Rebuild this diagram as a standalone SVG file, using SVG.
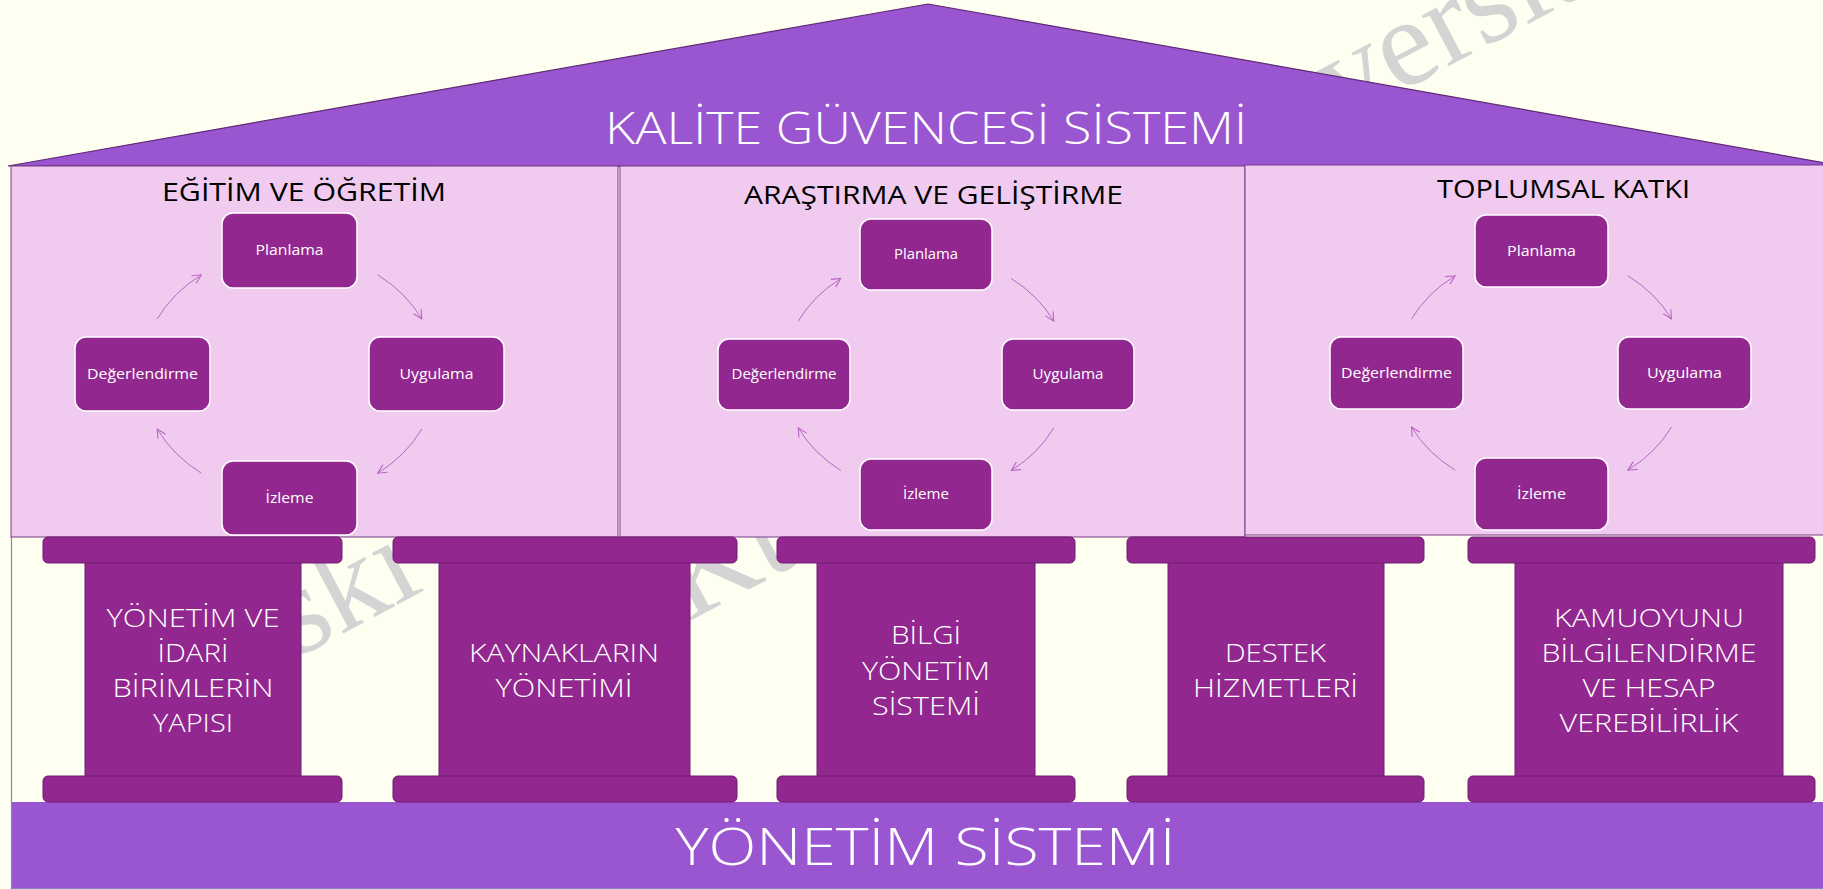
<svg xmlns="http://www.w3.org/2000/svg" width="1823" height="889" viewBox="0 0 1823 889">
<defs>
<style>
.wm{font-family:"Liberation Serif",serif;font-size:125px;fill:#d4d4d4}
.roof{fill:#9a55d1;stroke:#5e2a73;stroke-width:1.2}
.panel{fill:#f0cbef;stroke:#7a3a86;stroke-width:1}
.node{fill:#92278f;stroke:#ffffff;stroke-width:1.5}
.ntext{font-family:"Open Sans","Noto Sans",sans-serif;font-size:14.5px;fill:#ffffff;text-anchor:middle}
.title{font-family:"Open Sans","Noto Sans",sans-serif;font-size:26px;fill:#000000;text-anchor:middle}
.cap{fill:#92278f;stroke:#6e1f6e;stroke-width:1}
.shaft{fill:#92278f;stroke:#6e1f6e;stroke-width:1}
.ptext{font-family:"Open Sans","Noto Sans",sans-serif;font-size:25.5px;font-weight:300;fill:#ffffff;text-anchor:middle}
.big{font-family:"Open Sans","Noto Sans",sans-serif;fill:#ffffff;text-anchor:middle;font-weight:300}
.arc{fill:none;stroke:#b866c4;stroke-width:1;marker-end:url(#ah)}
</style>
<marker id="ah" viewBox="0 0 10 10" refX="9" refY="5" markerWidth="11" markerHeight="11" markerUnits="userSpaceOnUse" orient="auto">
<path d="M1,1 L9,5 L1,9" fill="none" stroke="#b866c4" stroke-width="1"/>
</marker>
</defs>
<rect x="0" y="0" width="1823" height="889" fill="#fefef1"/>

<g id="watermark">
<text class="wm" x="297" y="658" transform="rotate(-28 297 658)">ski</text>
<text class="wm" x="688" y="622" transform="rotate(-28 688 622)">Ku</text>
<text class="wm" x="1342" y="123" transform="rotate(-28 1342 123)">versit</text>
</g>

<g id="roof">
<polygon class="roof" points="8,166 928,4 1848,167"/>
<text class="big" x="926" y="144" font-size="44" font-weight="400" textLength="642" lengthAdjust="spacingAndGlyphs">KALİTE GÜVENCESİ SİSTEMİ</text>
</g>

<g id="base">
<rect x="11" y="802" width="1812" height="87" fill="#9a55d1"/>
<polyline points="11.5,537 11.5,888.5 1823,888.5" fill="none" stroke="#7d8ac6" stroke-width="1.2"/>
<text class="big" x="925.5" y="865" font-size="52" textLength="500" lengthAdjust="spacingAndGlyphs">YÖNETİM SİSTEMİ</text>
</g>

<g id="panel-egitim">
<rect class="panel" x="11" y="166" width="607" height="371"/>
<text class="title" x="304" y="200.5" textLength="284" lengthAdjust="spacingAndGlyphs">EĞİTİM VE ÖĞRETİM</text>
</g>
<g id="panel-arastirma">
<rect class="panel" x="620" y="166" width="625" height="371"/>
<text class="title" x="933.5" y="203.5" textLength="379" lengthAdjust="spacingAndGlyphs">ARAŞTIRMA VE GELİŞTİRME</text>
</g>
<g id="panel-toplumsal">
<rect class="panel" x="1245" y="165" width="590" height="370"/>
<text class="title" x="1563.5" y="198" textLength="253" lengthAdjust="spacingAndGlyphs">TOPLUMSAL KATKI</text>
</g>

<g id="connectors">
<path class="arc" d="M377.7,274.8 A147,124 0 0 1 421.8,319"/>
<path class="arc" d="M421.8,429 A147,124 0 0 1 377.7,473.2"/>
<path class="arc" d="M201.3,473.2 A147,124 0 0 1 157.2,429"/>
<path class="arc" d="M157.2,319 A147,124 0 0 1 201.3,274.8"/>

<path class="arc" d="M1011.2,278.5 A142,120 0 0 1 1053.8,321.2"/>
<path class="arc" d="M1053.8,427.8 A142,120 0 0 1 1011.2,470.5"/>
<path class="arc" d="M840.8,470.5 A142,120 0 0 1 798.2,427.8"/>
<path class="arc" d="M798.2,321.2 A142,120 0 0 1 840.8,278.5"/>

<path class="arc" d="M1627.9,275.8 A144.5,121.5 0 0 1 1671.5,319"/>
<path class="arc" d="M1671.5,427 A144.5,121.5 0 0 1 1627.9,470.2"/>
<path class="arc" d="M1455.1,470.2 A144.5,121.5 0 0 1 1411.5,427"/>
<path class="arc" d="M1411.5,319 A144.5,121.5 0 0 1 1455.1,275.8"/>
</g>

<g id="node-e-planlama"><rect class="node" x="222" y="213" width="135" height="75" rx="11"/><text class="ntext" x="289.5" y="255" textLength="68" lengthAdjust="spacingAndGlyphs">Planlama</text></g>
<g id="node-e-uygulama"><rect class="node" x="369" y="337" width="135" height="74" rx="11"/><text class="ntext" x="436.5" y="378.5" textLength="74" lengthAdjust="spacingAndGlyphs">Uygulama</text></g>
<g id="node-e-izleme"><rect class="node" x="222" y="461" width="135" height="74" rx="11"/><text class="ntext" x="289.5" y="502.5" textLength="48" lengthAdjust="spacingAndGlyphs">İzleme</text></g>
<g id="node-e-degerlendirme"><rect class="node" x="75" y="337" width="135" height="74" rx="11"/><text class="ntext" x="142.5" y="378.5" textLength="111" lengthAdjust="spacingAndGlyphs">Değerlendirme</text></g>

<g id="node-a-planlama"><rect class="node" x="860" y="219" width="132" height="71" rx="11"/><text class="ntext" x="926" y="259" textLength="64" lengthAdjust="spacingAndGlyphs">Planlama</text></g>
<g id="node-a-uygulama"><rect class="node" x="1002" y="339" width="132" height="71" rx="11"/><text class="ntext" x="1068" y="379" textLength="71" lengthAdjust="spacingAndGlyphs">Uygulama</text></g>
<g id="node-a-izleme"><rect class="node" x="860" y="459" width="132" height="71" rx="11"/><text class="ntext" x="926" y="499" textLength="46" lengthAdjust="spacingAndGlyphs">İzleme</text></g>
<g id="node-a-degerlendirme"><rect class="node" x="718" y="339" width="132" height="71" rx="11"/><text class="ntext" x="784" y="379" textLength="105" lengthAdjust="spacingAndGlyphs">Değerlendirme</text></g>

<g id="node-t-planlama"><rect class="node" x="1475" y="215" width="133" height="72" rx="11"/><text class="ntext" x="1541.5" y="255.5" textLength="69" lengthAdjust="spacingAndGlyphs">Planlama</text></g>
<g id="node-t-uygulama"><rect class="node" x="1618" y="337" width="133" height="72" rx="11"/><text class="ntext" x="1684.5" y="377.5" textLength="75" lengthAdjust="spacingAndGlyphs">Uygulama</text></g>
<g id="node-t-izleme"><rect class="node" x="1475" y="458" width="133" height="72" rx="11"/><text class="ntext" x="1541.5" y="498.5" textLength="49" lengthAdjust="spacingAndGlyphs">İzleme</text></g>
<g id="node-t-degerlendirme"><rect class="node" x="1330" y="337" width="133" height="72" rx="11"/><text class="ntext" x="1396.5" y="377.5" textLength="111" lengthAdjust="spacingAndGlyphs">Değerlendirme</text></g>

<g id="pillar-1">
<rect class="shaft" x="85" y="560" width="216" height="219"/>
<rect class="cap" x="43" y="537" width="299" height="26" rx="5"/>
<rect class="cap" x="43" y="776" width="299" height="26" rx="5"/>
<text class="ptext" x="193" y="626.7" textLength="173" lengthAdjust="spacingAndGlyphs">YÖNETİM VE</text>
<text class="ptext" x="193" y="661.7" textLength="71" lengthAdjust="spacingAndGlyphs">İDARİ</text>
<text class="ptext" x="193" y="697.3" textLength="161" lengthAdjust="spacingAndGlyphs">BİRİMLERİN</text>
<text class="ptext" x="193" y="732.3" textLength="80" lengthAdjust="spacingAndGlyphs">YAPISI</text>
</g>
<g id="pillar-2">
<rect class="shaft" x="439" y="560" width="251" height="219"/>
<rect class="cap" x="393" y="537" width="344" height="26" rx="5"/>
<rect class="cap" x="393" y="776" width="344" height="26" rx="5"/>
<text class="ptext" x="564" y="662" textLength="190" lengthAdjust="spacingAndGlyphs">KAYNAKLARIN</text>
<text class="ptext" x="564" y="697" textLength="137" lengthAdjust="spacingAndGlyphs">YÖNETİMİ</text>
</g>
<g id="pillar-3">
<rect class="shaft" x="817" y="560" width="218" height="219"/>
<rect class="cap" x="777" y="537" width="298" height="26" rx="5"/>
<rect class="cap" x="777" y="776" width="298" height="26" rx="5"/>
<text class="ptext" x="926" y="644.3" textLength="70" lengthAdjust="spacingAndGlyphs">BİLGİ</text>
<text class="ptext" x="926" y="679.5" textLength="128" lengthAdjust="spacingAndGlyphs">YÖNETİM</text>
<text class="ptext" x="926" y="714.7" textLength="108" lengthAdjust="spacingAndGlyphs">SİSTEMİ</text>
</g>
<g id="pillar-4">
<rect class="shaft" x="1168" y="560" width="216" height="219"/>
<rect class="cap" x="1127" y="537" width="297" height="26" rx="5"/>
<rect class="cap" x="1127" y="776" width="297" height="26" rx="5"/>
<text class="ptext" x="1275.5" y="662" textLength="101" lengthAdjust="spacingAndGlyphs">DESTEK</text>
<text class="ptext" x="1275.5" y="697" textLength="165" lengthAdjust="spacingAndGlyphs">HİZMETLERİ</text>
</g>
<g id="pillar-5">
<rect class="shaft" x="1515" y="560" width="268" height="219"/>
<rect class="cap" x="1468" y="537" width="347" height="26" rx="5"/>
<rect class="cap" x="1468" y="776" width="347" height="26" rx="5"/>
<text class="ptext" x="1649" y="627" textLength="190" lengthAdjust="spacingAndGlyphs">KAMUOYUNU</text>
<text class="ptext" x="1649" y="662" textLength="215" lengthAdjust="spacingAndGlyphs">BİLGİLENDİRME</text>
<text class="ptext" x="1649" y="697" textLength="133" lengthAdjust="spacingAndGlyphs">VE HESAP</text>
<text class="ptext" x="1649" y="732" textLength="179" lengthAdjust="spacingAndGlyphs">VEREBİLİRLİK</text>
</g>
</svg>
